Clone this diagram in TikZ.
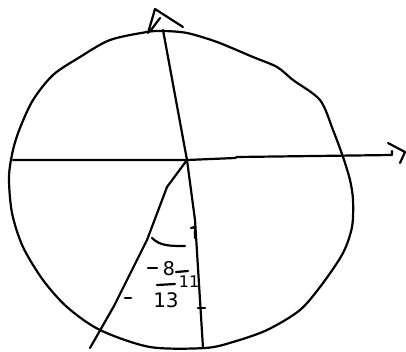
\documentclass[tikz,border=0pt]{standalone}
\usepackage{fontspec}
\setmainfont{DejaVu Sans}
\begin{document}
\begin{tikzpicture}[x=1pt,y=-1pt,
  pen/.style={line width=2.2pt, line join=round, line cap=round},
  digit/.style={inner sep=0pt}]
\useasboundingbox (0,0) rectangle (406,351);
\fill[white] (0,0) rectangle (406,351);
% circle
\draw[pen] plot[smooth cycle, tension=0.5] coordinates {
 (147,32) (163,31) (187,33) (217,42) (253,57) (277,67) (293,80) (320,100)
 (333,130) (343,157) (350,180) (353,200) (352,227) (343,253) (323,283)
 (300,310) (267,330) (233,342) (205,348) (150,347) (100,330) (67,307)
 (43,280) (23,247) (12,213) (9,177) (13,150) (20,128) (33,100) (53,75)
 (80,57) (110,40)};
% named points
\coordinate (O) at (187,160);
\coordinate (xl) at (13,160);
\coordinate (xr) at (392,155);
\coordinate (yt) at (163,30);
\coordinate (rb) at (203,348);
\coordinate (lb) at (90,348);
% x axis
\draw[pen] (xl) -- (O) -- (235,158) -- (237,157) -- (xr) -- (392,151);
\draw[pen] (388,143) -- (405,152) -- (400,163);
% y axis
\draw[pen] (O) -- (yt);
\draw[pen] (148,33) -- (155,9) -- (183,27);
\draw[pen] (151,30) -- (160,18);
% rays
\draw[pen] (O) -- (195,220) -- (rb);
\draw[pen] (O) -- (167,187) -- (147,240) -- (117,300) -- (114,306) -- (lb);
% angle arc and marks
\draw[pen] (152,238) .. controls (160,246) and (170,246) .. (185,246);
\draw[pen] (191,228) -- (195,227) -- (195,238);
\draw[pen] (148,268) -- (157,268);
\draw[pen] (176,272) -- (188,271);
\draw[pen] (157,285) -- (175,284);
\draw[pen] (125,298) -- (131,298);
\draw[pen] (198,308) -- (205,308);
% texts
\node[digit, font=\fontsize{19}{19}\selectfont] (t8) at (169,269) {8};
\node[digit, font=\fontsize{16}{16}\selectfont] (t11) at (189,282) {11};
\node[digit, font=\fontsize{20}{20}\selectfont] (t13) at (166,300) {13};
\end{tikzpicture}
\end{document}
